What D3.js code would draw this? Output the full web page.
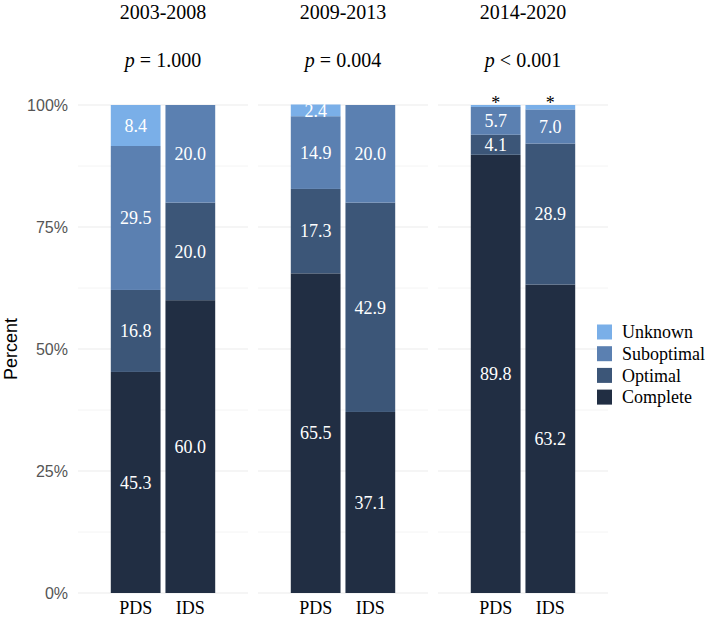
<!DOCTYPE html>
<html>
<head>
<meta charset="utf-8">
<script src="https://cdn.jsdelivr.net/npm/d3@7"></script>
<style>
  body { margin: 0; background: #fff; }
  svg text { font-family: "Liberation Serif", "Times New Roman", serif; }
  .axis-sans { font-family: "Liberation Sans", Arial, sans-serif !important; }
</style>
</head>
<body>
<div id="chart"></div>
<script>
// Périodes et tests
const periods = ["2003-2008", "2009-2013", "2014-2020"];
const pSigns = ["=", "=", "<"];
const pValues = ["1.000", "0.004", "0.001"];
const groups = ["PDS", "IDS"];

// Catégories (de bas en haut dans la pile)
const categories = ["Complete", "Optimal", "Suboptimal", "Unknown"];
const colors = ["#212e43", "#3c5678", "#5b80b1", "#7aafe8"];

// Valeurs (%) par période, dans l'ordre des groupes PDS, IDS
const complete   = [[45.3, 60.0], [65.5, 37.1], [89.8, 63.2]];
const optimal    = [[16.8, 20.0], [17.3, 42.9], [4.1, 28.9]];
const suboptimal = [[29.5, 20.0], [14.9, 20.0], [5.7, 7.0]];
const unknown    = [[8.4, 0], [2.4, 0], [0.4, 0.9]];

const yTicks = [0, 25, 50, 75, 100];
const yMinor = [12.5, 37.5, 62.5, 87.5];

function createChart() {
    const W = 709, H = 628;
    const panelLeft = 78, panelW = 170, panelGap = 10;
    const yTop = 105, yBottom = 593;

    const svg = d3.select("#chart").append("svg")
        .attr("width", W)
        .attr("height", H);

    const y = d3.scaleLinear().domain([0, 100]).range([yBottom, yTop]);

    const px = d3.scaleBand()
        .domain(periods)
        .range([panelLeft, panelLeft + 3 * panelW + 2 * panelGap])
        .paddingInner(panelGap / (panelW + panelGap));

    const x = d3.scaleBand()
        .domain(groups)
        .range([0, panelW])
        .paddingInner(0.09)
        .paddingOuter(0.6);

    const series = [complete, optimal, suboptimal, unknown];

    // Axe Y (étiquettes)
    svg.append("g")
        .selectAll("text")
        .data(yTicks)
        .join("text")
        .attr("class", "axis-sans")
        .attr("x", 68)
        .attr("y", d => y(d))
        .attr("dy", "0.36em")
        .attr("text-anchor", "end")
        .attr("fill", "#555")
        .style("font-size", "16px")
        .text(d => d + "%");

    svg.append("text")
        .attr("class", "axis-sans")
        .attr("transform", `translate(17,${(yTop + yBottom) / 2}) rotate(-90)`)
        .attr("text-anchor", "middle")
        .attr("fill", "#000")
        .style("font-size", "18px")
        .text("Percent");

    periods.forEach((per, i) => {
        const g = svg.append("g").attr("transform", `translate(${px(per)},0)`);

        // Grille
        g.selectAll(".minor")
            .data(yMinor)
            .join("line")
            .attr("x1", 0).attr("x2", panelW)
            .attr("y1", d => y(d)).attr("y2", d => y(d))
            .attr("stroke", "#f4f4f4")
            .attr("stroke-width", 1);
        g.selectAll(".major")
            .data(yTicks)
            .join("line")
            .attr("x1", 0).attr("x2", panelW)
            .attr("y1", d => y(d)).attr("y2", d => y(d))
            .attr("stroke", "#ebebeb")
            .attr("stroke-width", 1.2);

        // Empilement
        const rows = groups.map((grp, j) => {
            const row = { group: grp };
            categories.forEach((c, k) => { row[c] = series[k][i][j]; });
            return row;
        });
        const stacked = d3.stack().keys(categories)(rows);

        stacked.forEach((layer, k) => {
            g.selectAll(".seg-" + k)
                .data(layer)
                .join("rect")
                .attr("x", d => x(d.data.group))
                .attr("width", x.bandwidth())
                .attr("y", d => y(d[1]))
                .attr("height", d => y(d[0]) - y(d[1]))
                .attr("fill", colors[k]);

            // Étiquettes
            g.selectAll(".lab-" + k)
                .data(layer.filter(d => d[1] - d[0] >= 2))
                .join("text")
                .attr("x", d => x(d.data.group) + x.bandwidth() / 2)
                .attr("y", d => y((d[0] + d[1]) / 2))
                .attr("dy", "0.35em")
                .attr("text-anchor", "middle")
                .attr("fill", "#fff")
                .style("font-size", "18px")
                .text(d => (d[1] - d[0]).toFixed(1));
        });

        // Astérisques pour petites valeurs
        const small = stacked[3].filter(d => d[1] - d[0] > 0 && d[1] - d[0] < 2);
        g.selectAll(".star")
            .data(small)
            .join("text")
            .attr("x", d => x(d.data.group) + x.bandwidth() / 2)
            .attr("y", y(100) + 4)
            .attr("text-anchor", "middle")
            .attr("fill", "#000")
            .style("font-size", "18px")
            .text("*");

        // Étiquettes X
        g.selectAll(".xlab")
            .data(groups)
            .join("text")
            .attr("x", d => x(d) + x.bandwidth() / 2)
            .attr("y", 614)
            .attr("text-anchor", "middle")
            .attr("fill", "#000")
            .style("font-size", "18px")
            .text(d => d);

        // Titres
        g.append("text")
            .attr("x", panelW / 2)
            .attr("y", 19)
            .attr("text-anchor", "middle")
            .style("font-size", "20px")
            .text(per);

        const pt = g.append("text")
            .attr("x", panelW / 2)
            .attr("y", 67)
            .attr("text-anchor", "middle")
            .style("font-size", "20px");
        pt.append("tspan").style("font-style", "italic").text("p");
        pt.append("tspan").text(" " + pSigns[i] + " " + pValues[i]);
    });

    // Légende
    const legend = svg.append("g").attr("transform", "translate(597,332)");
    const legendKeys = categories.slice().reverse();
    legendKeys.forEach((c, i) => {
        legend.append("rect")
            .attr("x", 0)
            .attr("y", i * 21.7 - 7.5)
            .attr("width", 15)
            .attr("height", 15)
            .attr("fill", colors[categories.indexOf(c)]);
        legend.append("text")
            .attr("x", 25)
            .attr("y", i * 21.7)
            .attr("dy", "0.35em")
            .style("font-size", "18px")
            .text(c);
    });
}

createChart();
</script>
</body>
</html>
